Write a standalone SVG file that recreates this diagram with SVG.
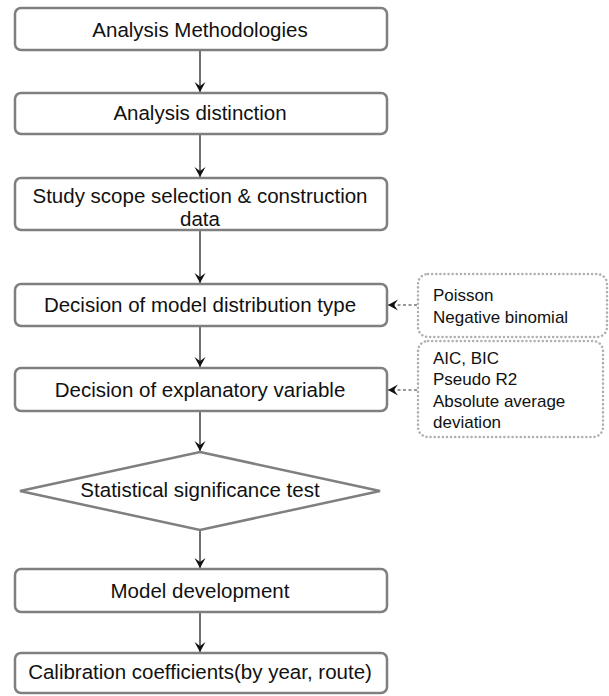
<svg xmlns="http://www.w3.org/2000/svg" width="609" height="696" viewBox="0 0 609 696">
<defs>
<style>
.box{fill:#fff;stroke:#7f7f7f;stroke-width:2.5}
.note{fill:#fff;stroke:#b0b0b0;stroke-width:2.5;stroke-dasharray:0.1 4;stroke-linecap:round}
.t{font-family:"Liberation Sans",Arial,sans-serif;font-size:20.5px;fill:#111;text-anchor:middle}
.n{font-family:"Liberation Sans",Arial,sans-serif;font-size:17px;fill:#111}
.c{stroke:#222;stroke-width:1.3;fill:none}
.d{stroke:#333;stroke-width:1.2;fill:none;stroke-dasharray:3 2.5}
</style>
<marker id="ah" markerWidth="12" markerHeight="12" refX="11" refY="6" orient="auto" markerUnits="userSpaceOnUse" viewBox="0 0 12 12">
<path d="M1,0.5 L11,6 L1,11.5 L5,6 Z" fill="#111"/>
</marker>
</defs>
<g id="connectors">
<line class="c" x1="200" y1="51" x2="200" y2="92" marker-end="url(#ah)"/>
<line class="c" x1="200" y1="135" x2="200" y2="177" marker-end="url(#ah)"/>
<line class="c" x1="200" y1="231" x2="200" y2="283" marker-end="url(#ah)"/>
<line class="c" x1="200" y1="327" x2="200" y2="367" marker-end="url(#ah)"/>
<line class="c" x1="200" y1="412" x2="200" y2="451" marker-end="url(#ah)"/>
<line class="c" x1="200" y1="531" x2="200" y2="568" marker-end="url(#ah)"/>
<line class="c" x1="200" y1="613" x2="200" y2="652" marker-end="url(#ah)"/>
<line class="d" x1="417" y1="305" x2="388" y2="305" marker-end="url(#ah)"/>
<line class="d" x1="417" y1="390" x2="388" y2="390" marker-end="url(#ah)"/>
</g>
<g id="n1"><rect class="box" x="15" y="8" width="372" height="42" rx="6"/><text class="t" x="200" y="37">Analysis Methodologies</text></g>
<g id="n2"><rect class="box" x="15" y="93" width="372" height="41" rx="6"/><text class="t" x="200" y="120">Analysis distinction</text></g>
<g id="n3"><rect class="box" x="15" y="178" width="372" height="52" rx="6"/><text class="t" x="200" y="203">Study scope selection &amp; construction</text><text class="t" x="200" y="226">data</text></g>
<g id="n4"><rect class="box" x="15" y="284" width="372" height="42" rx="6"/><text class="t" x="200" y="312">Decision of model distribution type</text></g>
<g id="n5"><rect class="box" x="15" y="368" width="372" height="43" rx="6"/><text class="t" x="200" y="397">Decision of explanatory variable</text></g>
<g id="n6"><polygon class="box" points="200,452 380,491 200,530 20,491"/><text class="t" x="200" y="497">Statistical significance test</text></g>
<g id="n7"><rect class="box" x="15" y="569" width="372" height="43" rx="6"/><text class="t" x="200" y="598">Model development</text></g>
<g id="n8"><rect class="box" x="15" y="653" width="372" height="40" rx="6"/><text class="t" x="200" y="679">Calibration coefficients(by year, route)</text></g>
<g id="note1"><rect class="note" x="418" y="274" width="189" height="63" rx="10"/><text class="n" x="433" y="301">Poisson</text><text class="n" x="433" y="323">Negative binomial</text></g>
<g id="note2"><rect class="note" x="418" y="341" width="185" height="96" rx="10"/><text class="n" x="433" y="364">AIC, BIC</text><text class="n" x="433" y="385">Pseudo R2</text><text class="n" x="433" y="407">Absolute average</text><text class="n" x="433" y="428">deviation</text></g>
</svg>
